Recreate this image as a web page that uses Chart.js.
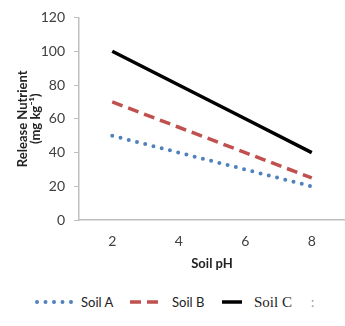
<!DOCTYPE html>
<html>
<head>
<meta charset="utf-8">
<script src="https://cdn.jsdelivr.net/npm/chart.js@4/dist/chart.umd.min.js"></script>
<style>
    body { margin: 0; background: #fff; }
    #wrap { position: relative; width: 345px; height: 326px; }
    #box { position: absolute; left: 0; top: 0; width: 345px; height: 270px; }
    #legend { position: absolute; left: 0; top: 292px; width: 345px; height: 20px; }
    .item { position: absolute; top: 0; height: 20px; display: flex; align-items: center; font: 13px Lato, sans-serif; color: #222; }
    .item svg { margin-right: 6px; }
</style>
</head>
<body>
<div id="wrap">
    <div id="box"><canvas id="chart"></canvas></div>
    <div id="legend"></div>
</div>
<script>
// 数据
const phLabels = ['2', '4', '6', '8'];
const soilA = [50, 40, 30, 20];
const soilB = [70, 55, 40, 25];
const soilC = [100, 80, 60, 40];
const yTicks = [0, 20, 40, 60, 80, 100, 120];

const datasets = [
    { label: 'Soil A', data: soilA, borderColor: '#4F81BD', borderWidth: 4, borderDash: [0, 8.5], borderCapStyle: 'round' },
    { label: 'Soil B', data: soilB, borderColor: '#C0504D', borderWidth: 3.5, borderDash: [11, 6], borderCapStyle: 'butt' },
    { label: 'Soil C', data: soilC, borderColor: '#000000', borderWidth: 3.5, borderDash: [], borderCapStyle: 'butt' }
].map(d => Object.assign(d, { fill: false, pointRadius: 0, tension: 0 }));

const tickFont = { family: 'Lato, sans-serif', size: 14 };
const titleFont = { family: 'Lato, sans-serif', size: 13, weight: 'bold', lineHeight: 1.0 };

new Chart(document.getElementById('chart'), {
    type: 'line',
    data: { labels: phLabels, datasets: datasets },
    options: {
        responsive: true,
        maintainAspectRatio: false,
        animation: false,
        layout: { padding: { top: 5, right: 0, left: 0, bottom: 0 } },
        plugins: { legend: { display: false }, tooltip: { enabled: false } },
        scales: {
            x: {
                offset: true,
                grid: { display: false },
                border: { color: '#BFBFBF', width: 1.5 },
                ticks: { color: '#404040', font: tickFont, padding: 5 },
                title: { display: true, text: 'Soil pH', color: '#222', font: titleFont, padding: { top: 2, bottom: 0 } }
            },
            y: {
                min: 0,
                max: 120,
                afterBuildTicks: scale => { scale.ticks = yTicks.map(v => ({ value: v })); },
                afterFit: scale => { scale.width = 79; },
                grid: { drawOnChartArea: false, drawTicks: true, tickLength: 5, color: '#BFBFBF' },
                border: { color: '#BFBFBF', width: 1.5 },
                ticks: { color: '#404040', font: tickFont, padding: 9 },
                title: {
                    display: true,
                    text: ['Release Nutrient', '(mg kg\u207B\u00B9)'],
                    color: '#222',
                    font: titleFont,
                    padding: { top: 16, bottom: 0 }
                }
            }
        }
    }
});

// 图例
const legend = document.getElementById('legend');
const legendX = [35, 130, 222];
const sampleW = [40, 36, 22];
datasets.forEach((d, i) => {
    const item = document.createElement('div');
    item.className = 'item';
    item.style.left = legendX[i] + 'px';
    const w = sampleW[i];
    const dash = d.borderDash.length ? d.borderDash.join(' ') : 'none';
    item.innerHTML = `<svg width="${w}" height="10"><line x1="${d.borderCapStyle === 'round' ? 2 : 0}" y1="5" x2="${w - 2}" y2="5" stroke="${d.borderColor}" stroke-width="${d.borderWidth}" stroke-dasharray="${dash}" stroke-linecap="${d.borderCapStyle}"/></svg><span>${d.label}</span>`;
    if (i === 2) {
        item.querySelector('span').style.fontFamily = '"Liberation Serif", serif';
        item.querySelector('span').style.fontSize = '15px';
        item.querySelector('svg').style.marginRight = '10px';
    }
    legend.appendChild(item);
});
const colon = document.createElement('div');
colon.className = 'item';
colon.style.left = '311px';
colon.style.color = '#999';
colon.textContent = ':';
legend.appendChild(colon);
</script>
</body>
</html>
